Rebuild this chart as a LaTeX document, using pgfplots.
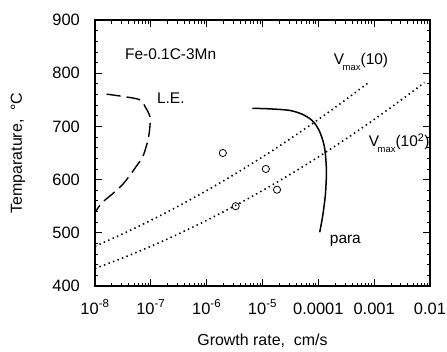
\documentclass[border=0pt]{standalone}
\usepackage{fontspec}
\setmainfont{Liberation Sans}
\usepackage{pgfplots}
\pgfplotsset{compat=1.18}
\begin{document}
\begin{tikzpicture}
\path[use as bounding box] (-95bp,-66bp) rectangle (352bp,286bp);
\begin{axis}[
  scale only axis,
  width=335bp, height=266bp,
  anchor=south west, at={(0,0)},
  xmode=log,
  xmin=1e-8, xmax=1e-2,
  ymin=400, ymax=900,
  xtick={1e-8,1e-7,1e-6,1e-5,1e-4,1e-3,1e-2},
  xticklabels={10\textsuperscript{-8},10\textsuperscript{-7},10\textsuperscript{-6},10\textsuperscript{-5},0.0001,0.001,0.01},
  ytick={400,500,600,700,800,900},
  minor y tick num=4,
  /pgf/number format/assume math mode=true,
  tick align=inside,
  major tick length=7bp,
  minor tick length=3.5bp,
  axis line style={line width=1.2bp},
  every tick/.style={line width=0.8bp, black},
  tick label style={font=\fontsize{16.5}{18}\selectfont},
  xticklabel style={anchor=base, yshift=-28bp, inner sep=0pt},
  yticklabel style={anchor=east, xshift=-15bp, inner sep=0pt},
  label style={font=\fontsize{16}{18}\selectfont},
  xlabel={Growth rate,\ \ cm/s},
  xlabel style={at={(axis description cs:0.5,-0.207)}, anchor=center},
  ylabel={Temparature,\ \ °C},
  ylabel style={at={(axis description cs:-0.230,0.5)}, anchor=center},
  clip=false,
]
% V_max(10) dotted
\addplot[black, line width=1.6bp, dash pattern=on 1.4bp off 3.4bp, smooth] coordinates {
(1e-8,474.6) (3.162e-8,498.1) (1e-7,523.4) (3.162e-7,550.5) (1e-6,579.4) (3.162e-6,610.1) (1e-5,642.6) (3.162e-5,676.9) (1e-4,713) (3.162e-4,750.9) (7.943e-4,782.5)};
% V_max(10^2) dotted
\addplot[black, line width=1.6bp, dash pattern=on 1.4bp off 3.4bp, smooth] coordinates {
(1e-8,433) (3.162e-8,452.9) (1e-7,474.6) (3.162e-7,498.1) (1e-6,523.4) (3.162e-6,550.5) (1e-5,579.4) (3.162e-5,610.1) (1e-4,642.6) (3.162e-4,676.9) (1e-3,713) (3.162e-3,750.9) (7.943e-3,782.5)};
% para
\addplot[black, line width=1.5bp, smooth] coordinates {
(6.607e-6,734) (1.349e-5,733) (3.090e-5,730) (5.370e-5,722) (8.128e-5,709) (1.059e-4,690) (1.259e-4,666) (1.349e-4,644) (1.396e-4,619) (1.396e-4,607) (1.334e-4,570) (1.202e-4,533) (1.059e-4,501)};
% L.E.
\addplot[black, line width=1.4bp, dash pattern=on 14bp off 6bp, smooth] coordinates {
(1.622e-8,760.6) (6.026e-8,751) (7.852e-8,737.5) (9.638e-8,718.6) (9.638e-8,700) (8.913e-8,675) (7.244e-8,644) (5.495e-8,625) (4.074e-8,606) (3.020e-8,589) (1.995e-8,572) (1.318e-8,556) (1e-8,538)};
% data circles
\addplot[only marks, mark=o, mark size=3.6bp, mark options={line width=0.8bp, fill=white}, black] coordinates {
(1.95e-6,650) (1.148e-5,620) (1.82e-5,581) (3.31e-6,550)};
\node[anchor=base west, inner sep=0pt, font=\fontsize{15.5}{18}\selectfont] at (axis cs:3.443e-8,825) {Fe-0.1C-3Mn};
\node[anchor=base west, inner sep=0pt, font=\fontsize{15.5}{18}\selectfont] at (axis cs:1.285e-7,742.4) {L.E.};
\node[anchor=base west, inner sep=0pt, font=\fontsize{15.5}{18}\selectfont] at (axis cs:1.888e-4,815.6) {V\hspace{-1.5bp}\raisebox{-6bp}{\fontsize{9.5}{9}\selectfont max}(10)};
\node[anchor=base west, inner sep=0pt, font=\fontsize{15.5}{18}\selectfont] at (axis cs:7.98e-4,661.7) {V\hspace{-1.5bp}\raisebox{-6bp}{\fontsize{9.5}{9}\selectfont max}(10\textsuperscript{2})};
\node[anchor=base west, inner sep=0pt, font=\fontsize{15.5}{18}\selectfont] at (axis cs:1.600e-4,479) {para};
\end{axis}
\end{tikzpicture}
\end{document}
